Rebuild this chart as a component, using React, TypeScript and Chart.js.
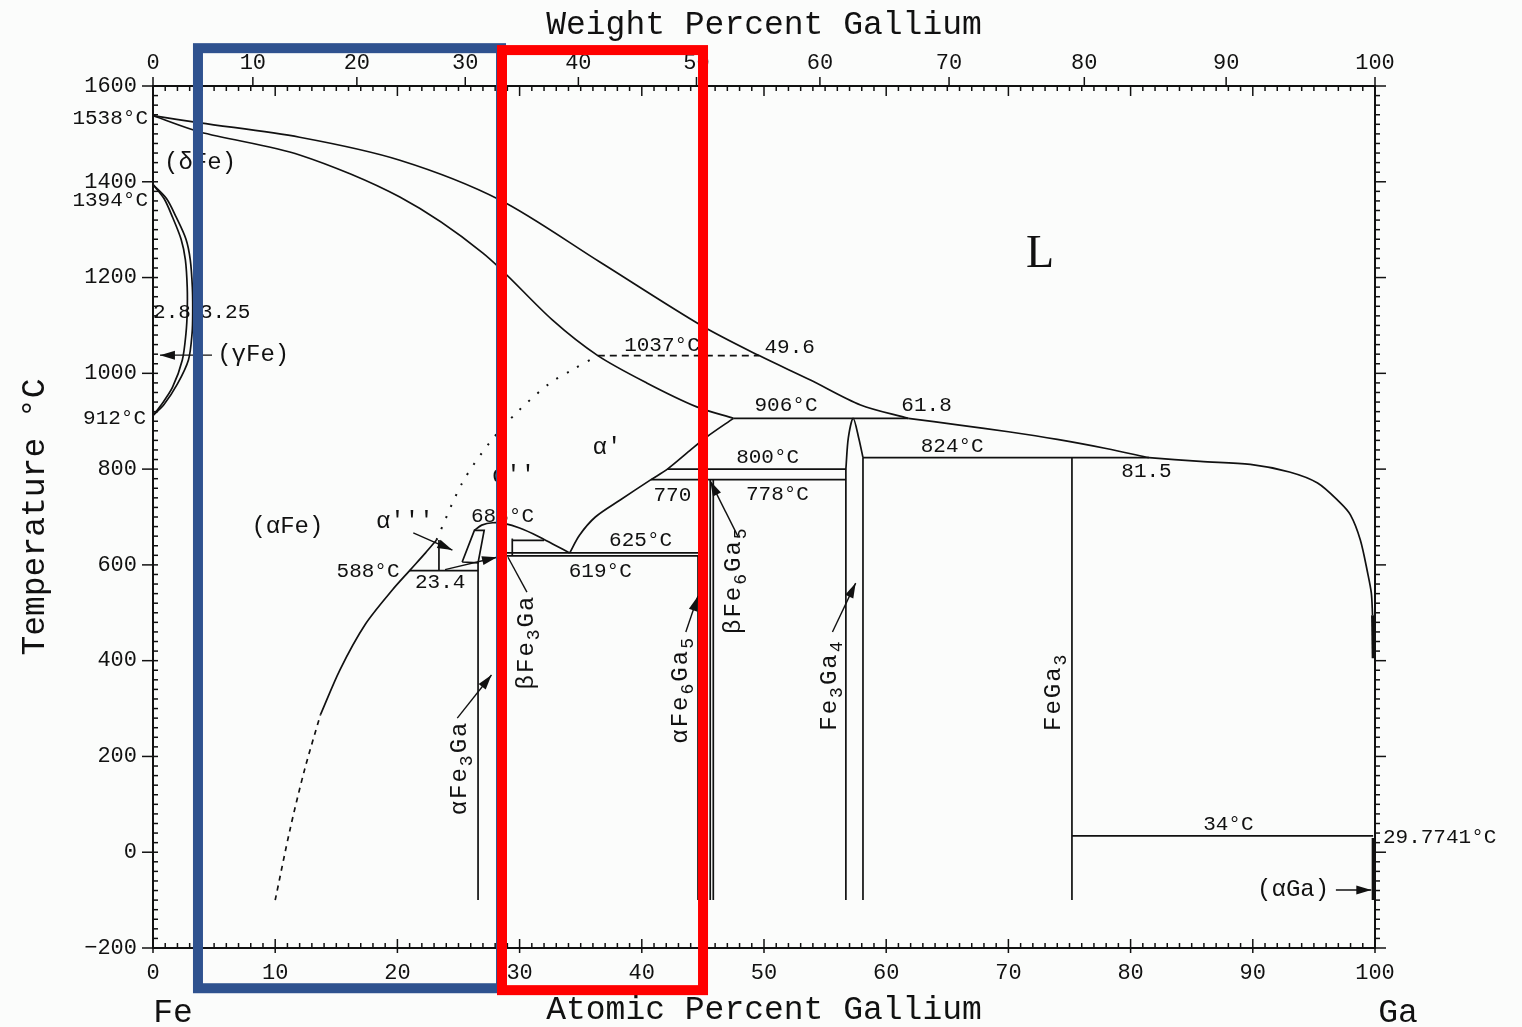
import { useEffect, useRef } from "react";
import { Chart, registerables } from "chart.js";

Chart.register(...registerables);

type Pt = [number, number];

// ---------- axis ticks ----------
const atomicTicks = [0, 10, 20, 30, 40, 50, 60, 70, 80, 90, 100];
const weightTicks = [0, 10, 20, 30, 40, 50, 60, 70, 80, 90, 100];
const tempTicks = [1600, 1400, 1200, 1000, 800, 600, 400, 200, 0, -200];

// ---------- phase boundaries (at.% Ga, °C) ----------
const liquidusFeSide: Pt[] = [
  [0, 1538], [3.85, 1523], [12.0, 1493], [20.2, 1445], [28.4, 1362], [36.6, 1232],
  [44.8, 1101], [49.6, 1037], [53.8, 986], [57.9, 934], [61.8, 906],
];
const liquidusMiddle: Pt[] = [
  [61.8, 906], [66, 892], [70, 878], [74, 862], [78, 843], [81.5, 824],
];
const liquidusGaSide: Pt[] = [
  [81.5, 824], [85.7, 816], [89.8, 810], [93.0, 794], [95.3, 771], [97.1, 731],
  [98.0, 704], [98.8, 652], [99.4, 583], [99.7, 541], [99.8, 495],
];
const liquidusGaTail: Pt[] = [[99.8, 495], [99.85, 405]];
const solidusAlpha: Pt[] = [
  [0, 1538], [3.85, 1504], [12.0, 1456], [20.2, 1368], [27.0, 1251], [32.7, 1111],
  [36.4, 1037], [40.4, 980], [44.5, 930], [47.5, 906],
];
const alphaPrimeBoundary: Pt[] = [
  [47.5, 906], [45.3, 867], [43.9, 838], [42.1, 800], [40.75, 778], [38.2, 735],
  [36.2, 700], [34.9, 662], [34.1, 625],
];
const orderingLine: Pt[] = [
  [23.2, 652], [25.3, 771], [27.6, 857], [29.8, 919], [32.5, 980], [34.3, 1007], [36.4, 1037],
];
const alphaFeSolvusDashed: Pt[] = [[10.0, -100], [11.2, 46], [12.4, 172], [13.7, 287]];
const alphaFeSolvus: Pt[] = [
  [13.7, 287], [15.3, 381], [17.35, 475], [19.6, 548], [21.0, 588], [22.3, 625], [23.2, 652],
];
const gammaLoopInner: Pt[] = [
  [0, 1394], [0.9, 1365], [1.6, 1326], [2.3, 1280], [2.65, 1237], [2.8, 1180], [2.8, 1128],
  [2.7, 1084], [2.4, 1028], [1.6, 971], [0.7, 935], [0, 912],
];
const gammaLoopOuter: Pt[] = [
  [0, 1394], [1.1, 1365], [1.9, 1326], [2.7, 1280], [3.05, 1237], [3.22, 1180], [3.25, 1128],
  [3.2, 1084], [2.9, 1028], [2.0, 978], [0.9, 935], [0, 912],
];
const betaFe3GaPrism: Pt[] = [[25.3, 606], [26.3, 672], [27.1, 672], [26.6, 604], [25.3, 606]];
const betaFe3GaArc: Pt[] = [
  [26.3, 672], [26.9, 683], [27.8, 688], [28.8, 686], [30.0, 677], [31.5, 660], [32.9, 641], [34.1, 625],
];
const betaFe3GaLeft: Pt[] = [[28.3, 672], [28.3, 619]];
const betaFe3GaRight: Pt[] = [[29.4, 619], [29.4, 655]];
const betaFe3GaTop: Pt[] = [[29.4, 651], [32.0, 651]];

const isotherm906: Pt[] = [[47.5, 906], [61.8, 906]];
const isotherm824: Pt[] = [[58.1, 824], [81.5, 824]];
const isotherm800: Pt[] = [[42.1, 800], [56.7, 800]];
const isotherm778: Pt[] = [[40.75, 778], [56.7, 778]];
const isotherm625: Pt[] = [[28.3, 625], [44.6, 625]];
const isotherm619: Pt[] = [[28.3, 619], [44.6, 619]];
const isotherm588: Pt[] = [[21.0, 588], [26.6, 588]];
const isotherm34: Pt[] = [[75.2, 34], [99.85, 34]];
const metastable1037: Pt[] = [[36.4, 1037], [49.6, 1037]];

const alpha3Vertical: Pt[] = [[23.4, 588], [23.4, 652]];
const fe3GaAlpha: Pt[] = [[26.6, 604], [26.6, -100]];
const fe6Ga5Alpha: Pt[] = [[44.6, 619], [44.6, -100]];
const fe6Ga5BetaA: Pt[] = [[45.6, 778], [45.6, -100]];
const fe6Ga5BetaB: Pt[] = [[45.85, 778], [45.85, -100]];
const fe3Ga4Left: Pt[] = [[56.7, 800], [56.7, -100]];
const fe3Ga4Right: Pt[] = [[58.1, 824], [58.1, -100]];
const fe3Ga4Dome: Pt[] = [[56.7, 800], [56.9, 865], [57.3, 906], [57.75, 865], [58.1, 824]];
const feGa3Line: Pt[] = [[75.2, 824], [75.2, -100]];
const alphaGaLine: Pt[] = [[99.85, 29.7741], [99.85, -100]];

// ---------- annotations ----------
// [text, at.% Ga, °C]
const valueLabels: [string, number, number][] = [
  ["1037°C", 41.65, 1059], ["49.6", 52.1, 1055], ["906°C", 51.8, 932], ["61.8", 63.3, 932],
  ["824°C", 65.4, 848], ["81.5", 81.3, 796], ["800°C", 50.3, 825], ["778°C", 51.1, 748],
  ["770", 42.5, 744], ["688°C", 28.6, 702], ["625°C", 39.9, 652], ["588°C", 17.6, 587],
  ["23.4", 23.5, 564], ["619°C", 36.6, 587], ["34°C", 88.0, 59], ["2.8", 1.55, 1128],
  ["3.25", 5.9, 1128],
];
const edgeLabels: [string, number, number][] = [
  ["1538°C", -0.41, 1533], ["1394°C", -0.41, 1362], ["912°C", -0.57, 906],
];
const gaMeltLabel: [string, number, number] = ["29.7741°C", 100.65, 30];
const phaseLabels: [string, number, number][] = [
  ["(δFe)", 3.85, 1439], ["(γFe)", 8.2, 1038], ["(αFe)", 11.0, 679], ["α'", 37.15, 844],
  ["α''", 29.5, 786], ["α'''", 20.6, 690], ["(αGa)", 93.3, -79],
];
const compoundLabels: [string, number, number][] = [
  ["αFe_3Ga", 25.1, 176], ["βFe_3Ga", 30.6, 439], ["αFe_6Ga_5", 43.2, 339],
  ["βFe_6Ga_5", 47.5, 568], ["Fe_3Ga_4", 55.4, 349], ["FeGa_3", 73.7, 335],
];
const liquidLabel: [string, number, number] = ["L", 72.6, 1247];
// [from x, from °C, to x, to °C, arrowhead]
const pointers: [number, number, number, number, boolean][] = [
  [4.83, 1038, 0.57, 1038, true],
  [21.3, 667, 24.5, 631, true],
  [23.9, 590, 28.15, 616, true],
  [30.6, 543, 29.05, 616, false],
  [24.9, 280, 27.7, 370, true],
  [43.6, 460, 44.6, 535, true],
  [47.9, 658, 45.6, 775, true],
  [55.6, 460, 57.5, 562, true],
  [96.8, -79, 99.7, -79, true],
];
// highlighted composition windows: [x from, x to, °C top, °C bottom, colour]
const highlightBoxes: [number, number, number, number, string][] = [
  [3.68, 28.48, 1679, -284, "#2f528f"],
  [28.56, 45.01, 1675, -288, "#ff0000"],
];

const MONO = '"Liberation Mono", "DejaVu Sans Mono", monospace';
const SERIF = '"Liberation Serif", "DejaVu Serif", serif';
const INK = "#111";

function wtToAt(w: number) {
  const a = w / 69.723;
  const b = (100 - w) / 55.845;
  return (100 * a) / (a + b);
}

function seg(pts: Pt[], extra: Record<string, unknown> = {}) {
  return {
    data: pts.map(([x, y]) => ({ x, y })),
    showLine: true,
    pointRadius: 0,
    borderColor: INK,
    borderWidth: 1.7,
    tension: 0,
    fill: false,
    ...extra,
  };
}
const smooth = (pts: Pt[], extra: Record<string, unknown> = {}) => seg(pts, { tension: 0.3, ...extra });

function drawRich(
  ctx: CanvasRenderingContext2D, text: string, x: number, y: number, size: number,
  rotate: boolean, spacing: number
) {
  const parts: { t: string; sub: boolean }[] = [];
  for (let i = 0; i < text.length; i++) {
    const c = text[i];
    if (c === "_") {
      parts.push({ t: text[i + 1], sub: true });
      i++;
    } else if (parts.length && !parts[parts.length - 1].sub) {
      parts[parts.length - 1].t += c;
    } else {
      parts.push({ t: c, sub: false });
    }
  }
  ctx.save();
  ctx.translate(x, y);
  if (rotate) ctx.rotate(-Math.PI / 2);
  (ctx as any).letterSpacing = spacing + "px";
  ctx.textBaseline = "middle";
  ctx.textAlign = "left";
  const widths = parts.map((p) => {
    ctx.font = `${p.sub ? Math.round(size * 0.75) : size}px ${MONO}`;
    return ctx.measureText(p.t).width;
  });
  let cx = -widths.reduce((a, b) => a + b, 0) / 2;
  parts.forEach((p, i) => {
    ctx.font = `${p.sub ? Math.round(size * 0.75) : size}px ${MONO}`;
    ctx.fillText(p.t, cx, p.sub ? size * 0.32 : 0);
    cx += widths[i];
  });
  ctx.restore();
}

const decor = {
  id: "phaseDecor",
  beforeDraw(chart: any) {
    const { ctx, width, height } = chart;
    ctx.save();
    ctx.fillStyle = "#fbfcfb";
    ctx.fillRect(0, 0, width, height);
    ctx.restore();
  },
  afterDatasetsDraw(chart: any) {
    const ctx: CanvasRenderingContext2D = chart.ctx;
    const xs = chart.scales.x;
    const ys = chart.scales.y;
    const px = (v: number) => xs.getPixelForValue(v);
    const py = (v: number) => ys.getPixelForValue(v);
    const L = px(0), R = px(100), T = py(1600), B = py(-200);
    const ln = (x1: number, y1: number, x2: number, y2: number) => {
      ctx.beginPath();
      ctx.moveTo(x1, y1);
      ctx.lineTo(x2, y2);
      ctx.stroke();
    };

    ctx.save();
    ctx.strokeStyle = INK;
    ctx.fillStyle = INK;
    ctx.lineWidth = 2;
    ctx.strokeRect(L, T, R - L, B - T);

    // atomic % ticks, bottom and top
    ctx.lineWidth = 1.5;
    for (let a = 0; a <= 100; a++) {
      const x = px(a);
      const major = a % 10 === 0;
      ln(x, B, x, B - (major ? 9 : 5));
      if (major) ln(x, B, x, B + 5);
      ln(x, T, x, T + (major ? 10 : 5));
    }
    // weight % ticks on top
    for (const w of weightTicks) {
      const x = px(wtToAt(w));
      ln(x, T, x, T - 9);
    }
    // temperature ticks
    for (let t = -200; t <= 1600; t += 20) {
      const y = py(t);
      const major = t % 200 === 0;
      ln(L, y, L + 5, y);
      if (major) ln(L - 11, y, L, y);
      ln(R, y, R + (major ? 11 : 5), y);
    }

    // tick labels
    ctx.font = `22px ${MONO}`;
    ctx.textBaseline = "middle";
    ctx.textAlign = "center";
    for (const a of atomicTicks) ctx.fillText(String(a), px(a), B + 25);
    for (const w of weightTicks) ctx.fillText(String(w), px(wtToAt(w)), T - 23);
    ctx.textAlign = "right";
    for (const t of tempTicks) ctx.fillText(t < 0 ? "−" + Math.abs(t) : String(t), L - 16, py(t));

    // axis titles
    ctx.font = `33px ${MONO}`;
    ctx.textAlign = "center";
    ctx.fillText("Weight Percent Gallium", (L + R) / 2, T - 61);
    ctx.fillText("Atomic Percent Gallium", (L + R) / 2, B + 62);
    ctx.fillText("Fe", L + 20, B + 65);
    ctx.fillText("Ga", R + 23, B + 65);
    ctx.save();
    ctx.translate(L - 118, py(700));
    ctx.rotate(-Math.PI / 2);
    ctx.fillText("Temperature °C", 0, 0);
    ctx.restore();

    // value labels
    ctx.font = `21px ${MONO}`;
    ctx.textAlign = "center";
    for (const [s, x, t] of valueLabels) ctx.fillText(s, px(x), py(t));
    ctx.textAlign = "right";
    for (const [s, x, t] of edgeLabels) ctx.fillText(s, px(x), py(t));
    ctx.textAlign = "left";
    ctx.fillText(gaMeltLabel[0], px(gaMeltLabel[1]), py(gaMeltLabel[2]));

    // phase field labels
    ctx.font = `24px ${MONO}`;
    ctx.textAlign = "center";
    for (const [s, x, t] of phaseLabels) ctx.fillText(s, px(x), py(t));
    ctx.font = `46px ${SERIF}`;
    ctx.fillText(liquidLabel[0], px(liquidLabel[1]), py(liquidLabel[2]));

    // compound labels, rotated
    for (const [s, x, t] of compoundLabels) drawRich(ctx, s, px(x), py(t), 24, true, 2);

    // pointers
    ctx.lineWidth = 1.4;
    for (const [x1, t1, x2, t2, head] of pointers) {
      const a1 = px(x1), b1 = py(t1), a2 = px(x2), b2 = py(t2);
      ln(a1, b1, a2, b2);
      if (head) {
        const ang = Math.atan2(b2 - b1, a2 - a1);
        const len = 15, hw = 4.5;
        const bx = a2 - len * Math.cos(ang), by = b2 - len * Math.sin(ang);
        ctx.beginPath();
        ctx.moveTo(a2, b2);
        ctx.lineTo(bx + hw * Math.sin(ang), by - hw * Math.cos(ang));
        ctx.lineTo(bx - hw * Math.sin(ang), by + hw * Math.cos(ang));
        ctx.closePath();
        ctx.fill();
      }
    }
    ctx.restore();
  },
  afterDraw(chart: any) {
    const ctx: CanvasRenderingContext2D = chart.ctx;
    const xs = chart.scales.x;
    const ys = chart.scales.y;
    ctx.save();
    ctx.lineWidth = 10;
    for (const [x1, x2, t1, t2, color] of highlightBoxes) {
      const a = xs.getPixelForValue(x1), b = xs.getPixelForValue(x2);
      const c = ys.getPixelForValue(t1), d = ys.getPixelForValue(t2);
      ctx.strokeStyle = color;
      ctx.strokeRect(a, c, b - a, d - c);
    }
    ctx.restore();
  },
};

export default function App() {
  const ref = useRef<HTMLCanvasElement>(null);
  useEffect(() => {
    const canvas = ref.current;
    if (!canvas) return;
    const datasets = [
      smooth(liquidusFeSide),
      smooth(liquidusMiddle),
      smooth(liquidusGaSide),
      seg(liquidusGaTail, { borderWidth: 3 }),
      smooth(solidusAlpha),
      smooth(alphaPrimeBoundary),
      smooth(orderingLine, { borderDash: [2, 10], borderWidth: 2 }),
      smooth(alphaFeSolvusDashed, { borderDash: [5, 5] }),
      smooth(alphaFeSolvus),
      smooth(gammaLoopInner),
      smooth(gammaLoopOuter),
      seg(betaFe3GaPrism),
      smooth(betaFe3GaArc),
      seg(betaFe3GaLeft),
      seg(betaFe3GaRight),
      seg(betaFe3GaTop),
      seg(isotherm906),
      seg(isotherm824),
      seg(isotherm800),
      seg(isotherm778),
      seg(isotherm625),
      seg(isotherm619),
      seg(isotherm588),
      seg(isotherm34),
      seg(metastable1037, { borderDash: [7, 5] }),
      seg(alpha3Vertical),
      seg(fe3GaAlpha),
      seg(fe6Ga5Alpha),
      seg(fe6Ga5BetaA),
      seg(fe6Ga5BetaB),
      seg(fe3Ga4Left),
      seg(fe3Ga4Right),
      smooth(fe3Ga4Dome),
      seg(feGa3Line),
      seg(alphaGaLine, { borderWidth: 3 }),
    ];
    const chart = new Chart(canvas, {
      type: "scatter",
      data: { datasets: datasets as any },
      options: {
        responsive: false,
        animation: false,
        devicePixelRatio: 1,
        events: [],
        layout: { padding: { left: 153, right: 147, top: 86, bottom: 79 } },
        scales: {
          x: { type: "linear", min: 0, max: 100, display: false },
          y: { type: "linear", min: -200, max: 1600, display: false },
        },
        plugins: { legend: { display: false }, tooltip: { enabled: false } },
      },
      plugins: [decor as any],
    });
    return () => chart.destroy();
  }, []);
  return (
    <div style={{ position: "fixed", left: 0, top: 0, width: 1522, height: 1027, background: "#fbfcfb" }}>
      <canvas ref={ref} width={1522} height={1027} style={{ display: "block" }} />
    </div>
  );
}
